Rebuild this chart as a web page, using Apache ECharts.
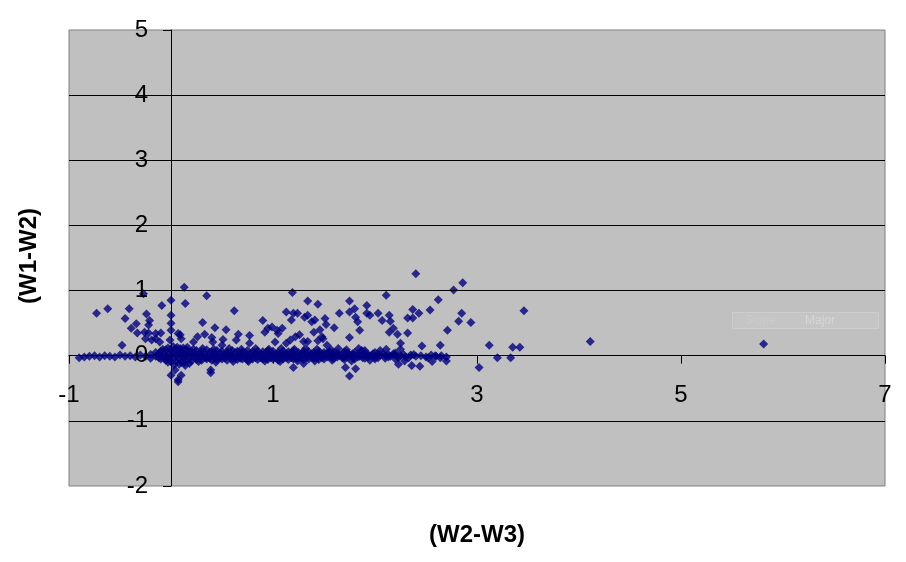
<!DOCTYPE html>
<html>
<head>
<meta charset="utf-8">
<script src="https://cdn.jsdelivr.net/npm/echarts@6/dist/echarts.min.js"></script>
<style>
html,body{margin:0;padding:0;background:#fff;}
#c{width:906px;height:562px;}
</style>
</head>
<body>
<div id="c"></div>
<script>
// ---- data ----
var xTickValues = [-1, 1, 3, 5, 7];
var yTickValues = [-2, -1, 0, 1, 2, 3, 4, 5];
var xTitle = "(W2-W3)";
var yTitle = "(W1-W2)";

var bandMid = [
[-0.90,-0.03],[-0.85,-0.02],[-0.80,-0.01],[-0.75,0.00],[-0.70,-0.02],[-0.65,0.00],[-0.60,-0.01],[-0.55,-0.02],[-0.50,0.01],[-0.45,-0.01],[-0.40,0.00],[-0.35,-0.02],[-0.30,0.01],[-0.25,-0.01],[-0.20,0.02],[-0.15,-0.01],[-0.10,0.01],[-0.05,-0.02],[0.00,0.00],[0.05,0.01],[0.10,-0.01],[0.15,0.02],[0.20,0.00],[0.25,-0.01],[0.30,0.01],[0.35,-0.02],[0.40,0.00],[0.45,0.01],[0.50,-0.01],[0.55,0.02],[0.60,0.00],[0.65,-0.01],[0.70,0.01],[0.75,0.00],[0.80,-0.02],[0.85,0.01],[0.90,0.00],[0.95,-0.01],[1.00,0.02],[1.05,0.00],[1.10,-0.01],[1.15,0.01],[1.20,0.00],[1.25,-0.02],[1.30,0.01],[1.35,0.00],[1.40,-0.01],[1.45,0.02],[1.50,0.00],[1.55,-0.01],[1.60,0.01],[1.65,0.00],[1.70,-0.02],[1.75,0.01],[1.80,0.00],[1.85,-0.01],[1.90,0.01],[1.95,0.00],[2.00,-0.02],[2.05,0.01],[2.10,0.00],[2.15,-0.01],[2.20,0.01],[2.25,0.00],[2.30,-0.02],[2.35,0.01],[2.40,-0.01],[2.45,0.00],[2.50,-0.02],[2.55,0.01],[2.60,-0.01],[2.65,0.00],[2.70,-0.02]
];
var bandMidUp = [
[-0.12,0.03],[-0.07,0.04],[-0.02,0.03],[0.03,0.05],[0.08,0.04],[0.13,0.03],[0.18,0.05],[0.23,0.04],[0.28,0.03],[0.33,0.04],[0.38,0.05],[0.43,0.03],[0.48,0.04],[0.53,0.03],[0.58,0.04],[0.63,0.05],[0.68,0.03],[0.73,0.04],[0.78,0.03],[0.83,0.04],[0.88,0.03],[0.93,0.05],[0.98,0.04],[1.03,0.03],[1.08,0.04],[1.13,0.03],[1.18,0.04],[1.23,0.05],[1.28,0.03],[1.33,0.04],[1.38,0.03],[1.43,0.04],[1.48,0.03],[1.53,0.04],[1.58,0.03],[1.63,0.04],[1.68,0.03],[1.73,0.04],[1.78,0.03],[1.83,0.02],[1.88,0.03],[1.93,0.02],[1.98,0.03],[2.03,0.02],[2.08,0.03],[2.13,0.02],[2.18,0.03],[2.28,0.02],[2.38,0.02]
];
var bandMidDown = [
[-0.12,-0.03],[-0.07,-0.04],[-0.02,-0.05],[0.03,-0.04],[0.08,-0.05],[0.13,-0.03],[0.18,-0.04],[0.23,-0.03],[0.28,-0.04],[0.33,-0.03],[0.38,-0.04],[0.43,-0.03],[0.48,-0.03],[0.53,-0.04],[0.58,-0.03],[0.63,-0.03],[0.68,-0.04],[0.73,-0.03],[0.78,-0.04],[0.83,-0.03],[0.88,-0.03],[0.93,-0.04],[0.98,-0.03],[1.03,-0.03],[1.08,-0.04],[1.13,-0.03],[1.18,-0.03],[1.23,-0.04],[1.28,-0.03],[1.33,-0.03],[1.38,-0.02],[1.43,-0.03],[1.48,-0.03],[1.53,-0.02],[1.58,-0.03],[1.63,-0.02],[1.68,-0.03],[1.73,-0.02],[1.78,-0.03],[1.83,-0.02],[1.88,-0.03],[1.93,-0.02],[2.03,-0.03],[2.13,-0.02],[2.23,-0.03],[2.33,-0.03]
];
var bandUpper = [
[-0.15,0.05],[-0.10,0.07],[-0.05,0.09],[0.00,0.08],[0.05,0.10],[0.10,0.07],[0.15,0.09],[0.20,0.06],[0.25,0.08],[0.30,0.07],[0.35,0.09],[0.40,0.06],[0.45,0.08],[0.50,0.07],[0.55,0.06],[0.60,0.08],[0.65,0.07],[0.70,0.06],[0.75,0.08],[0.80,0.06],[0.85,0.07],[0.90,0.06],[0.95,0.08],[1.00,0.07],[1.05,0.05],[1.10,0.07],[1.15,0.06],[1.20,0.08],[1.25,0.05],[1.30,0.07],[1.35,0.06],[1.40,0.05],[1.45,0.07],[1.50,0.05],[1.55,0.06],[1.60,0.05],[1.70,0.06],[1.80,0.05],[1.90,0.04],[2.00,0.05],[2.20,0.04],
[0.02,0.14],[0.06,0.13],[0.12,0.12],[-0.03,0.12],[0.16,0.13]
];
var bandTop = [
[-0.08,0.10],[0.09,0.11],[0.22,0.10],[0.31,0.11],[0.42,0.10],[0.57,0.11],[0.69,0.10],[0.83,0.11],[0.96,0.10],[1.08,0.11],[1.21,0.10],[1.32,0.11],[1.43,0.10],[1.57,0.09],[1.72,0.09],[1.87,0.08],[2.05,0.08]
];
var bandLower = [
[-0.20,-0.04],[-0.10,-0.05],[-0.05,-0.07],[0.00,-0.09],[0.05,-0.08],[0.10,-0.10],[0.15,-0.07],[0.20,-0.08],[0.25,-0.06],[0.30,-0.07],[0.35,-0.05],[0.40,-0.07],[0.45,-0.06],[0.50,-0.05],[0.55,-0.07],[0.60,-0.05],[0.65,-0.06],[0.70,-0.05],[0.75,-0.07],[0.80,-0.05],[0.85,-0.06],[0.90,-0.05],[0.95,-0.06],[1.00,-0.05],[1.05,-0.07],[1.10,-0.05],[1.15,-0.06],[1.20,-0.05],[1.25,-0.04],[1.30,-0.06],[1.35,-0.05],[1.40,-0.04],[1.45,-0.06],[1.50,-0.05],[1.60,-0.04],[1.70,-0.06],[1.80,-0.05],[1.90,-0.04],[2.00,-0.05],[2.10,-0.04],[2.20,-0.05],
[0.03,-0.14],[0.08,-0.13],[0.18,-0.12]
];
var bandBottom = [
[-0.03,-0.10],[0.13,-0.11],[0.27,-0.09],[0.44,-0.10],[0.61,-0.09],[0.76,-0.09],[0.92,-0.08],[1.07,-0.09],[1.24,-0.08],[1.41,-0.08],[1.58,-0.07],[1.77,-0.08],[1.95,-0.07]
];
var scatterAbove = [
[-0.27,0.95],[0.00,0.85],[-0.09,0.77],[-0.73,0.65],[-0.62,0.72],[-0.41,0.72],[-0.24,0.64],[-0.45,0.57],[0.00,0.62],[-0.34,0.49],[-0.21,0.54],[-0.22,0.47],[-0.39,0.42],[-0.33,0.35],[-0.26,0.36],[-0.22,0.35],[-0.15,0.34],[-0.10,0.35],[0.00,0.39],[0.00,0.50],[-0.25,0.26],[-0.19,0.24],[-0.15,0.26],[-0.11,0.21],[-0.48,0.16],[-0.01,0.24],[0.07,0.34],
[0.13,1.05],[0.35,0.92],[0.14,0.80],[0.62,0.69],[0.31,0.51],[0.90,0.54],[0.43,0.43],[0.54,0.40],[0.92,0.36],[0.95,0.42],[0.99,0.44],[1.04,0.39],[0.09,0.32],[0.33,0.33],[0.66,0.33],[0.77,0.31],[0.10,0.26],[0.26,0.29],[0.40,0.28],[0.51,0.25],[0.64,0.24],[0.77,0.19],[1.02,0.21],[0.41,0.21],[0.22,0.21],[0.50,0.16],
[1.19,0.97],[1.34,0.84],[1.44,0.79],[1.75,0.84],[1.92,0.77],[1.80,0.72],[1.75,0.67],[1.65,0.65],[1.92,0.65],[1.95,0.62],[2.03,0.65],[1.13,0.67],[1.20,0.65],[1.24,0.65],[1.31,0.59],[1.34,0.62],[1.18,0.55],[1.38,0.52],[1.41,0.55],[1.51,0.57],[1.81,0.59],[1.83,0.52],[1.52,0.48],[1.60,0.43],[1.46,0.40],[1.40,0.36],[1.85,0.39],[1.05,0.34],[1.09,0.42],[1.26,0.32],[1.48,0.29],[1.75,0.28],[1.13,0.19],[1.17,0.24],[1.22,0.29],[1.30,0.22],[1.34,0.22],[1.44,0.23],[1.49,0.26],[1.53,0.16],[1.64,0.11],[1.84,0.11],[1.90,0.08],
[2.40,1.26],[2.86,1.12],[2.77,1.01],[2.11,0.93],[2.62,0.86],[2.14,0.62],[2.07,0.54],[2.15,0.53],[2.37,0.71],[2.43,0.65],[2.32,0.58],[2.37,0.58],[2.54,0.70],[2.85,0.65],[2.82,0.53],[2.94,0.51],[2.18,0.42],[2.14,0.36],[2.22,0.33],[2.32,0.35],[2.71,0.39],[2.25,0.19],[2.46,0.15],[2.64,0.16],[2.11,0.10],[2.25,0.10],
[3.46,0.69],[3.12,0.16],[3.35,0.13],[3.42,0.13],[4.11,0.22],[5.81,0.18]
];
var scatterBelow = [
[0.00,-0.30],[0.07,-0.37],[0.04,-0.22],[0.39,-0.22],[0.39,-0.26],[0.10,-0.30],[0.07,-0.40],[0.14,-0.15],[1.20,-0.18],[1.71,-0.18],[1.81,-0.20],[1.75,-0.31],[1.30,-0.12],[2.23,-0.13],[2.36,-0.15],[2.44,-0.16],[2.29,-0.08],[2.56,-0.09],[2.70,-0.08],[2.64,-0.03],[2.52,-0.03],[2.59,0.00],[3.20,-0.03],[3.33,-0.03],[3.02,-0.18]
];

var allPoints = bandMid.concat(bandMidUp, bandMidDown, bandUpper, bandTop, bandLower, bandBottom, scatterAbove, scatterBelow);

var chart = echarts.init(document.getElementById('c'), null, {renderer: 'canvas'});
var FONT = "'Liberation Sans', Arial, sans-serif";
var GRID = {left: 69, right: 21, top: 30, bottom: 76};
var X_MIN = -1, X_MAX = 7, Y_MIN = -2, Y_MAX = 5;
// put the axes through the origin (labels follow the axis lines)
var plotW = 906 - GRID.left - GRID.right, plotH = 562 - GRID.top - GRID.bottom;
var xAxisOffset = -plotH * (0 - Y_MIN) / (Y_MAX - Y_MIN);
var yAxisOffset = -plotW * (0 - X_MIN) / (X_MAX - X_MIN);

chart.setOption({
  animation: false,
  backgroundColor: '#ffffff',
  grid: {
    left: GRID.left, right: GRID.right, top: GRID.top, bottom: GRID.bottom,
    show: true, backgroundColor: '#C0C0C0', borderColor: '#808080', borderWidth: 1
  },
  xAxis: {
    type: 'value', min: X_MIN, max: X_MAX, z: 10, position: 'bottom', offset: xAxisOffset,
    axisLine: {show: true, onZero: false, lineStyle: {color: '#000', width: 1}},
    axisTick: {show: true, inside: false, length: 8, customValues: xTickValues, lineStyle: {color: '#000'}},
    axisLabel: {show: true, customValues: xTickValues, margin: 28, color: '#000', fontSize: 24, fontFamily: FONT},
    splitLine: {show: false}
  },
  yAxis: {
    type: 'value', min: Y_MIN, max: Y_MAX, interval: 1, z: 10, position: 'left', offset: yAxisOffset,
    axisLine: {show: true, onZero: false, lineStyle: {color: '#000', width: 1}},
    axisTick: {show: true, inside: false, length: 8, lineStyle: {color: '#000'}},
    axisLabel: {show: true, customValues: yTickValues, margin: 23, color: '#000', fontSize: 24, fontFamily: FONT},
    splitLine: {show: true, showMinLine: false, showMaxLine: false, lineStyle: {color: '#000', width: 1}}
  },
  graphic: [
    {type: 'text', style: {text: xTitle, x: 477, y: 535, align: 'center', verticalAlign: 'middle', font: 'bold 24px ' + FONT, fill: '#000'}},
    {type: 'text', x: 29, y: 256, rotation: Math.PI / 2, style: {text: yTitle, x: 0, y: 0, align: 'center', verticalAlign: 'middle', font: 'bold 24px ' + FONT, fill: '#000'}},
    {type: 'rect', shape: {x: 732.5, y: 312.5, width: 146, height: 16}, style: {fill: '#c5c5c5', stroke: '#cdcdcd', lineWidth: 1}, z: 0},
    {type: 'text', style: {text: 'Slope', x: 745, y: 321, verticalAlign: 'middle', font: '12px ' + FONT, fill: '#cbcbcb'}, z: 1},
    {type: 'text', style: {text: 'Major', x: 805, y: 321, verticalAlign: 'middle', font: '12px ' + FONT, fill: '#d6d6d6'}, z: 1}
  ],
  series: [{
    type: 'scatter',
    data: allPoints,
    symbol: 'diamond',
    symbolSize: 9,
    itemStyle: {color: '#000080'},
    z: 2
  }]
});
</script>
</body>
</html>
